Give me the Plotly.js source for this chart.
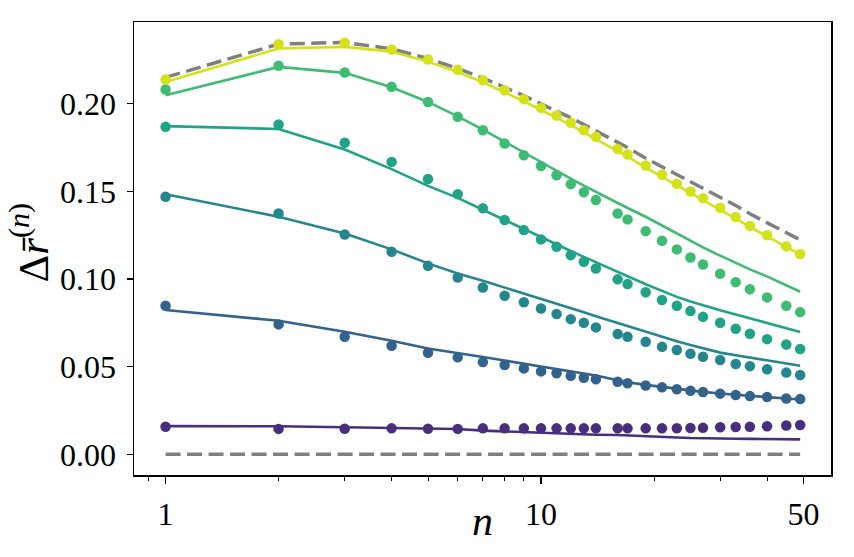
<!DOCTYPE html>
<html>
<head>
<meta charset="utf-8">
<script src="https://cdn.plot.ly/plotly-3.0.1.min.js"></script>
<style>
  html, body { margin: 0; padding: 0; background: #ffffff; }
  #chart { width: 854px; height: 557px; }
</style>
</head>
<body>
<div id="chart"></div>
<script>
// Sample sizes n (log-spaced integers)
const nValues = [1, 2, 3, 4, 5, 6, 7, 8, 9, 10, 11, 12, 13, 14, 16, 17, 19, 21, 23, 25, 27, 30, 33, 36, 40, 45, 49];

// Upper bound (grey dashed) and zero reference
const upperBound = [0.2150, 0.2340, 0.2350, 0.2313, 0.2258, 0.2201, 0.2146, 0.2093, 0.2046, 0.1999, 0.1959, 0.1920, 0.1881, 0.1846, 0.1780, 0.1750, 0.1689, 0.1641, 0.1593, 0.1553, 0.1518, 0.1468, 0.1419, 0.1372, 0.1322, 0.1262, 0.1223];
const zeroLine = [0, 0, 0, 0, 0, 0, 0, 0, 0, 0, 0, 0, 0, 0, 0, 0, 0, 0, 0, 0, 0, 0, 0, 0, 0, 0, 0];

// Measured values (dots), one array per curve, bottom to top
const measured1 = [0.0157, 0.0145, 0.0146, 0.0148, 0.0146, 0.0145, 0.0148, 0.0148, 0.0148, 0.0148, 0.0148, 0.0148, 0.0148, 0.0148, 0.0148, 0.0148, 0.0148, 0.0148, 0.0149, 0.0150, 0.0151, 0.0154, 0.0156, 0.0157, 0.0160, 0.0164, 0.0167];
const measured2 = [0.0847, 0.0741, 0.0670, 0.0619, 0.0579, 0.0553, 0.0526, 0.0509, 0.0490, 0.0473, 0.0462, 0.0448, 0.0437, 0.0428, 0.0414, 0.0405, 0.0393, 0.0382, 0.0371, 0.0363, 0.0355, 0.0346, 0.0338, 0.0332, 0.0327, 0.0318, 0.0315];
const measured3 = [0.1469, 0.1374, 0.1254, 0.1155, 0.1075, 0.1009, 0.0952, 0.0904, 0.0867, 0.0832, 0.0800, 0.0771, 0.0750, 0.0724, 0.0686, 0.0670, 0.0642, 0.0613, 0.0595, 0.0574, 0.0557, 0.0538, 0.0515, 0.0503, 0.0485, 0.0466, 0.0452];
const measured4 = [0.1868, 0.1881, 0.1777, 0.1668, 0.1570, 0.1484, 0.1403, 0.1336, 0.1279, 0.1226, 0.1184, 0.1136, 0.1098, 0.1060, 0.0998, 0.0971, 0.0924, 0.0880, 0.0847, 0.0817, 0.0784, 0.0750, 0.0716, 0.0688, 0.0657, 0.0626, 0.0601];
const measured5 = [0.2081, 0.2216, 0.2178, 0.2096, 0.2010, 0.1925, 0.1849, 0.1773, 0.1706, 0.1645, 0.1592, 0.1541, 0.1495, 0.1450, 0.1374, 0.1340, 0.1273, 0.1218, 0.1169, 0.1123, 0.1083, 0.1030, 0.0982, 0.0942, 0.0895, 0.0847, 0.0811];
const measured6 = [0.2138, 0.2339, 0.2347, 0.2309, 0.2252, 0.2193, 0.2134, 0.2077, 0.2026, 0.1976, 0.1933, 0.1891, 0.1849, 0.1811, 0.1742, 0.1710, 0.1647, 0.1595, 0.1543, 0.1499, 0.1460, 0.1406, 0.1353, 0.1303, 0.1250, 0.1186, 0.1143];

// Model curves (solid lines), bottom to top
const model1 = [0.0161, 0.0160, 0.0154, 0.0150, 0.0147, 0.0144, 0.0135, 0.0130, 0.0126, 0.0122, 0.0119, 0.0116, 0.0114, 0.0112, 0.0110, 0.0107, 0.0103, 0.0099, 0.0096, 0.0093, 0.0091, 0.0090, 0.0089, 0.0088, 0.0087, 0.0086, 0.0085];
const model2 = [0.0823, 0.0762, 0.0699, 0.0648, 0.0604, 0.0579, 0.0555, 0.0535, 0.0518, 0.0501, 0.0487, 0.0474, 0.0462, 0.0450, 0.0422, 0.0411, 0.0396, 0.0384, 0.0373, 0.0364, 0.0356, 0.0347, 0.0339, 0.0332, 0.0326, 0.0318, 0.0313];
const model3 = [0.1484, 0.1355, 0.1260, 0.1169, 0.1089, 0.1032, 0.0990, 0.0952, 0.0919, 0.0889, 0.0860, 0.0834, 0.0810, 0.0787, 0.0748, 0.0730, 0.0698, 0.0670, 0.0645, 0.0623, 0.0604, 0.0580, 0.0565, 0.0552, 0.0538, 0.0520, 0.0505];
const model4 = [0.1872, 0.1856, 0.1739, 0.1627, 0.1531, 0.1463, 0.1395, 0.1336, 0.1284, 0.1236, 0.1196, 0.1160, 0.1126, 0.1095, 0.1040, 0.1015, 0.0970, 0.0932, 0.0898, 0.0872, 0.0850, 0.0822, 0.0798, 0.0776, 0.0752, 0.0722, 0.0698];
const model5 = [0.2048, 0.2210, 0.2176, 0.2094, 0.2010, 0.1928, 0.1852, 0.1782, 0.1721, 0.1665, 0.1617, 0.1573, 0.1533, 0.1497, 0.1435, 0.1405, 0.1355, 0.1305, 0.1258, 0.1215, 0.1180, 0.1133, 0.1092, 0.1055, 0.1015, 0.0966, 0.0927];
const model6 = [0.2124, 0.2315, 0.2324, 0.2297, 0.2240, 0.2181, 0.2122, 0.2065, 0.2014, 0.1964, 0.1921, 0.1879, 0.1837, 0.1799, 0.1731, 0.1698, 0.1636, 0.1584, 0.1533, 0.1489, 0.1451, 0.1397, 0.1345, 0.1296, 0.1244, 0.1181, 0.1140];

// Viridis-like colours, dark to bright
const colors = ['#472f7d', '#33628d', '#24868e', '#20a386', '#3fbc73', '#d4e21a'];

const xTickVals = [1, 10, 50];
const xTickText = ['1', '10', '50'];
const xMinorVals = [0.9, 2, 3, 4, 5, 6, 7, 8, 9, 20, 30, 40];
const yTickVals = [0, 0.05, 0.10, 0.15, 0.20];

const measured = [measured1, measured2, measured3, measured4, measured5, measured6];
const models = [model1, model2, model3, model4, model5, model6];

const traces = [];
[zeroLine, upperBound].forEach(function (ys) {
  traces.push({
    x: nValues, y: ys, type: 'scatter', mode: 'lines',
    line: { color: '#808080', width: 3.5, dash: '15px,6.5px' },
    hoverinfo: 'skip', showlegend: false
  });
});
models.forEach(function (ys, i) {
  traces.push({
    x: nValues, y: ys, type: 'scatter', mode: 'lines',
    line: { color: colors[i], width: 2.6 },
    showlegend: false
  });
});
measured.forEach(function (ys, i) {
  traces.push({
    x: nValues, y: ys, type: 'scatter', mode: 'markers',
    marker: { color: colors[i], size: 10.5, line: { width: 0 } },
    showlegend: false
  });
});

const tickFont = { family: 'Liberation Serif, serif', size: 32, color: '#000000' };

const layout = {
  width: 854, height: 557,
  margin: { l: 134, r: 23, t: 22, b: 82 },
  paper_bgcolor: '#ffffff', plot_bgcolor: '#ffffff',
  showlegend: false,
  xaxis: {
    type: 'log',
    range: [Math.log10(0.824), Math.log10(59.2)],
    tickmode: 'array', tickvals: xTickVals, ticktext: xTickText,
    ticks: 'outside', ticklen: 7, tickwidth: 1.3, tickcolor: '#000000',
    minor: { tickmode: 'array', tickvals: xMinorVals, ticks: 'outside', ticklen: 4, tickwidth: 1, tickcolor: '#000000', showgrid: false },
    showgrid: false, zeroline: false,
    showline: true, linecolor: '#000000', linewidth: 1.5, mirror: true,
    tickfont: tickFont, ticklabelstandoff: 3
  },
  yaxis: {
    range: [-0.0118, 0.2466],
    tickmode: 'array', tickvals: yTickVals, tickformat: '.2f',
    ticks: 'outside', ticklen: 6, tickwidth: 1.3, tickcolor: '#000000',
    showgrid: false, zeroline: false,
    showline: true, linecolor: '#000000', linewidth: 1.5, mirror: true,
    tickfont: tickFont, ticklabelstandoff: 4
  },
  annotations: [
    {
      text: '<i>n</i>', xref: 'paper', yref: 'paper', x: 0.5, y: 0,
      xanchor: 'center', yanchor: 'middle', yshift: -46, showarrow: false,
      font: { family: 'Liberation Serif, serif', size: 42, color: '#000000' }
    },
    {
      text: 'Δ<i>r̄</i><sup>(<i>n</i>)</sup>', xref: 'paper', yref: 'paper',
      x: 0, y: 0.5, xanchor: 'center', yanchor: 'middle', xshift: -105, yshift: 6,
      textangle: -90, showarrow: false,
      font: { family: 'Liberation Serif, serif', size: 43, color: '#000000' }
    }
  ]
};

Plotly.newPlot('chart', traces, layout, { displayModeBar: false, staticPlot: true });
</script>
</body>
</html>
